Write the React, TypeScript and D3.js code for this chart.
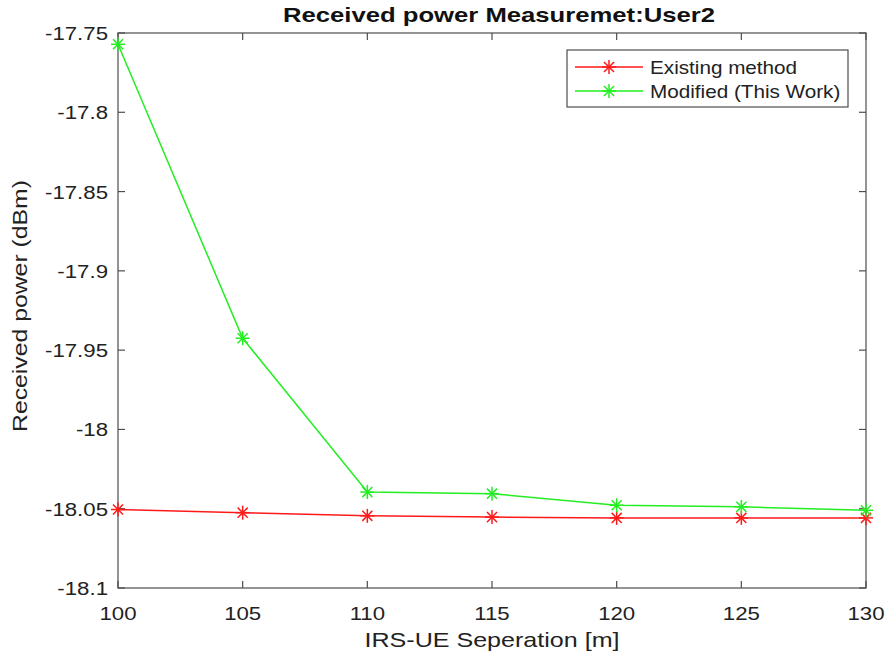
import React from "react";
import * as d3 from "d3";

const xValues = [100, 105, 110, 115, 120, 125, 130];
const existingMethod = [-18.0505, -18.0525, -18.0545, -18.0553, -18.0558, -18.0558, -18.0558];
const modifiedWork = [-17.7571, -17.9425, -18.0395, -18.0405, -18.0478, -18.0488, -18.051];
const xTicks = [100, 105, 110, 115, 120, 125, 130];
const yTicks = [-17.75, -17.8, -17.85, -17.9, -17.95, -18, -18.05, -18.1];
const seriesNames = ["Existing method", "Modified (This Work)"];
const seriesColors = ["#ff1a1a", "#22ee22"];

const W = 887, H = 657;
const L = 118, R = 866, T = 33, B = 588;
const FONT = "'Liberation Sans', Arial, Helvetica, sans-serif";
const AX = "#4d4d4d";
const SX = 1.17;

function Star({ x, y, color }: { x: number; y: number; color: string }) {
  const r = 7;
  const d = r * 0.72;
  return (
    <g stroke={color} strokeWidth={1.5}>
      <line x1={x - r} y1={y} x2={x + r} y2={y} />
      <line x1={x} y1={y - r} x2={x} y2={y + r} />
      <line x1={x - d} y1={y - d} x2={x + d} y2={y + d} />
      <line x1={x - d} y1={y + d} x2={x + d} y2={y - d} />
    </g>
  );
}

export default function App() {
  const x = d3.scaleLinear().domain([100, 130]).range([L, R]);
  const y = d3.scaleLinear().domain([-18.1, -17.75]).range([B, T]);
  const line = d3
    .line<number>()
    .x((_, i) => x(xValues[i]))
    .y((v) => y(v));
  const series = [existingMethod, modifiedWork];
  const tickLen = 7;

  return (
    <svg width={W} height={H} style={{ position: "absolute", left: 0, top: 0, background: "#fff" }} fontFamily={FONT}>
      <rect x={0} y={0} width={W} height={H} fill="#fff" />
      {/* title */}
      <text x={499} y={22} textAnchor="middle" fontWeight="bold" fontSize={21} textLength={432} lengthAdjust="spacingAndGlyphs" fill="#111">
        Received power Measuremet:User2
      </text>
      {/* axes box */}
      <rect x={L} y={T} width={R - L} height={B - T} fill="#fff" stroke={AX} strokeWidth={1.2} />
      {/* x ticks */}
      {xTicks.map((t) => (
        <g key={"xt" + t}>
          <line x1={x(t)} x2={x(t)} y1={B} y2={B - tickLen} stroke={AX} strokeWidth={1.2} />
          <line x1={x(t)} x2={x(t)} y1={T} y2={T + tickLen} stroke={AX} strokeWidth={1.2} />
          <g transform={`translate(${x(t)},620) scale(${SX},1)`}>
            <text textAnchor="middle" fontSize={19} fill="#222">{t}</text>
          </g>
        </g>
      ))}
      {/* y ticks */}
      {yTicks.map((t) => (
        <g key={"yt" + t}>
          <line x1={L} x2={L + tickLen} y1={y(t)} y2={y(t)} stroke={AX} strokeWidth={1.2} />
          <line x1={R} x2={R - tickLen} y1={y(t)} y2={y(t)} stroke={AX} strokeWidth={1.2} />
          <g transform={`translate(108,${y(t) + 7}) scale(${SX},1)`}>
            <text textAnchor="end" fontSize={19} fill="#222">{String(t)}</text>
          </g>
        </g>
      ))}
      {/* axis labels */}
      <text x={492} y={647} textAnchor="middle" fontSize={21} textLength={255} lengthAdjust="spacingAndGlyphs" fill="#222">
        IRS-UE Seperation [m]
      </text>
      <text transform="translate(27,306) rotate(-90)" textAnchor="middle" fontSize={21} textLength={252} lengthAdjust="spacingAndGlyphs" fill="#222">
        Received power (dBm)
      </text>
      {/* series */}
      {series.map((s, si) => (
        <g key={"s" + si}>
          <path d={line(s) || ""} fill="none" stroke={seriesColors[si]} strokeWidth={1.5} />
          {s.map((v, i) => (
            <Star key={i} x={x(xValues[i])} y={y(v)} color={seriesColors[si]} />
          ))}
        </g>
      ))}
      {/* legend */}
      <rect x={567} y={50} width={281} height={57} fill="#fff" stroke={AX} strokeWidth={1.2} />
      {seriesNames.map((n, i) => {
        const cy = 67 + i * 24;
        return (
          <g key={"lg" + i}>
            <line x1={575} x2={643} y1={cy} y2={cy} stroke={seriesColors[i]} strokeWidth={1.5} />
            <Star x={609} y={cy} color={seriesColors[i]} />
            <g transform={`translate(650,${cy + 7}) scale(1.15,1)`}>
              <text fontSize={18} fill="#222">{n}</text>
            </g>
          </g>
        );
      })}
    </svg>
  );
}
